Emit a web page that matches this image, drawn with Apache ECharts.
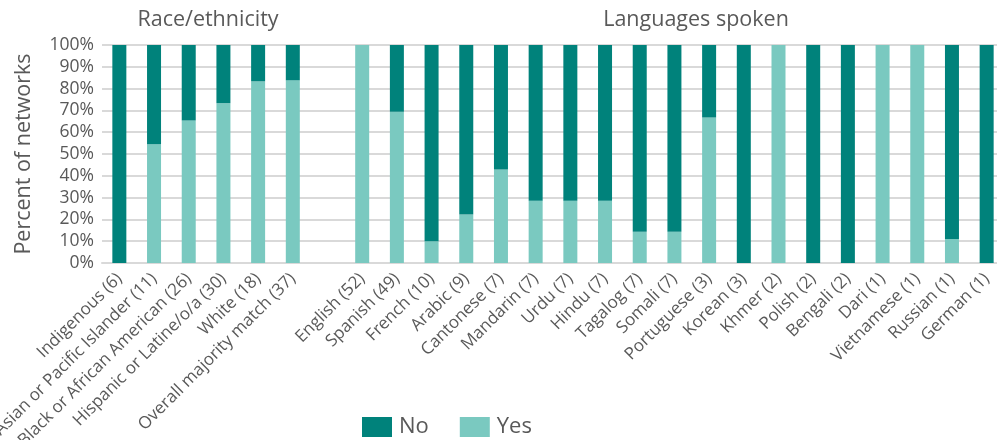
<!DOCTYPE html>
<html>
<head>
<meta charset="utf-8">
<script src="https://cdn.jsdelivr.net/npm/echarts@6/dist/echarts.min.js"></script>
<style>
  html, body { margin: 0; padding: 0; background: #fff; }
  #chart { width: 997px; height: 440px; }
</style>
</head>
<body>
<div id="chart"></div>
<script>
// categories (empty string = spacer between the two groups)
const categories = [
  'Indigenous (6)', 'Asian or Pacific Islander (11)', 'Black or African American (26)',
  'Hispanic or Latine/o/a (30)', 'White (18)', 'Overall majority match (37)',
  '',
  'English (52)', 'Spanish (49)', 'French (10)', 'Arabic (9)', 'Cantonese (7)',
  'Mandarin (7)', 'Urdu (7)', 'Hindu (7)', 'Tagalog (7)', 'Somali (7)',
  'Portuguese (3)', 'Korean (3)', 'Khmer (2)', 'Polish (2)', 'Bengali (2)',
  'Dari (1)', 'Vietnamese (1)', 'Russian (1)', 'German (1)'
];
// percent of networks
const yesValues = [0, 54.5, 65.4, 73.3, 83.3, 83.8, null,
  100, 69.4, 10, 22.2, 42.9, 28.6, 28.6, 28.6, 14.3, 14.3, 66.7, 0, 100, 0, 0, 100, 100, 11, 0];
const noValues = [100, 45.5, 34.6, 26.7, 16.7, 16.2, null,
  0, 30.6, 90, 77.8, 57.1, 71.4, 71.4, 71.4, 85.7, 85.7, 33.3, 100, 0, 100, 100, 0, 0, 89, 100];
const yTicks = [0, 10, 20, 30, 40, 50, 60, 70, 80, 90, 100];

const font = '"Open Sans", sans-serif';
const textColor = '#595959';

const chart = echarts.init(document.getElementById('chart'));
chart.setOption({
  animation: false,
  textStyle: { fontFamily: font },
  title: [
    { text: 'Race/ethnicity', left: 203, top: 4, textAlign: 'center',
      textStyle: { fontFamily: font, fontSize: 21.5, fontWeight: 'normal', color: textColor } },
    { text: 'Languages spoken', left: 691, top: 4, textAlign: 'center',
      textStyle: { fontFamily: font, fontSize: 21.5, fontWeight: 'normal', color: textColor } }
  ],
  legend: {
    left: 357, top: 411,
    itemWidth: 30, itemHeight: 20, itemGap: 31,
    icon: 'rect',
    textStyle: { fontFamily: font, fontSize: 22, color: textColor, padding: [0, 0, 0, 2] },
    data: ['No', 'Yes']
  },
  grid: { left: 102, top: 45, width: 902, height: 218, containLabel: false, outerBoundsMode: 'none' },
  xAxis: {
    type: 'category',
    data: categories,
    axisTick: { show: false },
    axisLine: { lineStyle: { color: '#d9d9d9', width: 2 } },
    axisLabel: { rotate: 45, interval: 0, fontSize: 17, color: textColor, margin: 13, fontFamily: font }
  },
  yAxis: {
    type: 'value',
    min: yTicks[0], max: yTicks[yTicks.length - 1], interval: 10,
    name: 'Percent of networks',
    nameLocation: 'middle',
    nameGap: 67,
    nameTextStyle: { fontFamily: font, fontSize: 21.5, color: textColor },
    axisLabel: { formatter: '{value}%', fontSize: 17.5, color: textColor, margin: 8, fontFamily: font },
    splitLine: { lineStyle: { color: '#d9d9d9', width: 2 } }
  },
  series: [
    { name: 'Yes', type: 'bar', stack: 'all', data: yesValues, barWidth: 14,
      itemStyle: { color: '#7ac9c0' } },
    { name: 'No', type: 'bar', stack: 'all', data: noValues, barWidth: 14,
      itemStyle: { color: '#00827b' } }
  ]
});
</script>
</body>
</html>
